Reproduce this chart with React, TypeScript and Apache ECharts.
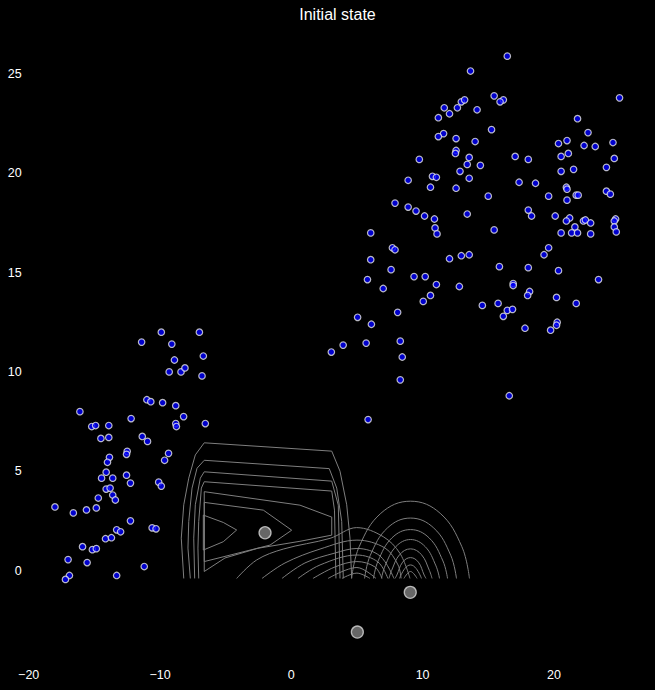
import React, { useEffect, useRef } from "react";
import * as echarts from "echarts";

// ---- data ----
const titleText = "Initial state";

const xTicks = { min: -20, max: 27, interval: 10 };
const yTicks = { min: -5, max: 27, interval: 5 };

const leftClusterPoints: number[][] = [
  [-9.9, 12.0], [-7.0, 12.0], [-11.4, 11.5], [-9.1, 11.4], [-8.9, 10.6], [-6.7, 10.8], [-9.3, 10.0], [-8.4, 10.0], [-8.1, 10.2], [-6.8, 9.8],
  [-16.1, 8.0], [-11.0, 8.6], [-10.7, 8.5], [-9.8, 8.45], [-8.8, 8.3], [-12.2, 7.65], [-8.2, 7.75], [-15.2, 7.25], [-14.9, 7.3], [-13.9, 7.3],
  [-8.8, 7.4], [-8.75, 7.25], [-6.55, 7.4], [-14.5, 6.65], [-13.9, 6.7], [-11.35, 6.75], [-10.95, 6.5], [-12.5, 6.0], [-12.55, 5.85], [-9.35, 5.9],
  [-13.85, 5.7], [-14.0, 5.45], [-9.65, 5.55], [-14.1, 4.95], [-14.45, 4.65], [-13.6, 4.65], [-12.55, 4.8], [-12.25, 4.4], [-10.1, 4.45], [-9.9, 4.25],
  [-14.1, 4.1], [-13.8, 4.15], [-13.6, 3.8], [-13.4, 3.55], [-14.7, 3.65], [-18.0, 3.2], [-16.6, 2.9], [-15.6, 3.05], [-14.85, 3.15], [-12.25, 2.5],
  [-13.3, 2.05], [-13.0, 1.95], [-10.6, 2.15], [-10.3, 2.1], [-14.15, 1.6], [-13.7, 1.65], [-15.9, 1.2], [-15.15, 1.05], [-14.85, 1.1], [-17.0, 0.55],
  [-15.55, 0.4], [-11.2, 0.2], [-16.9, -0.25], [-17.2, -0.45], [-13.3, -0.25],
];

const rightClusterPoints: number[][] = [
  [16.45, 25.9], [13.65, 25.15], [25.0, 23.8], [15.45, 23.9], [16.15, 23.7], [15.9, 23.6], [12.95, 23.6], [13.2, 23.7], [12.65, 23.3], [11.65, 23.3],
  [12.05, 23.0], [14.15, 23.2], [11.2, 22.8], [21.8, 22.75], [15.25, 22.2], [22.6, 22.05], [11.6, 22.0], [11.2, 21.85], [12.55, 21.75], [14.0, 21.6],
  [21.0, 21.65], [20.35, 21.5], [24.5, 21.55], [22.3, 21.4], [23.15, 21.35], [12.55, 21.15], [12.5, 21.0], [13.55, 20.8], [21.1, 21.0], [20.55, 20.85],
  [17.05, 20.85], [18.05, 20.7], [24.6, 20.75], [9.75, 20.7], [13.4, 20.45], [14.4, 20.4], [24.0, 20.3], [21.5, 20.2], [12.85, 20.1], [20.55, 20.1],
  [10.75, 19.85], [11.05, 19.8], [13.55, 19.75], [8.9, 19.65], [17.35, 19.55], [18.6, 19.5], [10.6, 19.3], [12.55, 19.25], [20.95, 19.3], [21.0, 19.2],
  [24.0, 19.1], [24.3, 18.95], [19.6, 18.85], [15.0, 18.85], [21.7, 18.9], [21.85, 18.9], [21.0, 18.65], [7.9, 18.5], [8.9, 18.3], [9.5, 18.1],
  [18.05, 18.15], [10.15, 17.85], [10.9, 17.7], [13.4, 17.95], [18.3, 17.85], [20.1, 17.85], [21.2, 17.75], [20.95, 17.6], [22.25, 17.6], [22.4, 17.65],
  [22.8, 17.5], [24.7, 17.7], [24.6, 17.6], [21.6, 17.3], [24.6, 17.3], [10.95, 17.25], [24.75, 17.05], [11.1, 16.95], [20.55, 17.0], [21.35, 17.0],
  [21.8, 17.0], [22.8, 16.95], [15.45, 17.15], [6.05, 17.0], [19.6, 16.25], [19.25, 15.9], [7.7, 16.25], [7.9, 16.15], [12.05, 15.7], [12.95, 15.85],
  [13.55, 15.9], [6.05, 15.65], [7.6, 15.15], [15.85, 15.3], [18.05, 15.25], [20.35, 15.1], [5.8, 14.65], [9.35, 14.8], [10.2, 14.8], [11.05, 14.4],
  [12.8, 14.3], [16.9, 14.45], [16.9, 14.35], [23.4, 14.65], [7.0, 14.2], [18.15, 14.05], [18.0, 13.85], [10.6, 13.85], [10.05, 13.55], [20.2, 13.75],
  [14.55, 13.35], [15.75, 13.45], [21.7, 13.45], [16.45, 13.1], [16.85, 13.15], [16.15, 12.8], [5.05, 12.75], [8.1, 13.0], [6.1, 12.4], [20.25, 12.5],
  [20.2, 12.35], [17.8, 12.2], [19.75, 12.1], [3.95, 11.35], [5.7, 11.45], [8.3, 11.55], [3.05, 11.0], [8.45, 10.75], [8.3, 9.6], [16.6, 8.8], [5.85, 7.6],
];

const centroidPoints: number[][] = [
  [-2.0, 1.9],
  [9.06, -1.1],
  [5.03, -3.1],
];

// contour lines around the first centroid (piecewise, open at the bottom cut)
const leftContours: number[][][] = [
  [[-8.19, -0.4], [-8.38, 1.63], [-8.19, 3.31], [-7.81, 4.65], [-7.31, 5.82], [-6.63, 6.43], [3.08, 6.01], [3.71, 5.0], [4.22, 3.31], [4.47, 1.63], [4.6, -0.4]],
  [[-7.69, -0.4], [-7.87, 1.13], [-7.81, 2.47], [-7.56, 4.15], [-7.18, 5.15], [-6.63, 5.55], [2.89, 5.13], [3.46, 4.15], [3.84, 2.47], [3.96, -0.4]],
  [[-7.36, -0.4], [-7.43, 1.63], [-7.31, 3.31], [-6.93, 4.65], [-6.63, 4.97], [3.08, 4.5], [3.58, 3.29], [3.71, -0.4]],
  [[-7.05, -0.4], [-7.11, 1.13], [-7.05, 2.47], [-6.85, 4.15], [-6.63, 4.47], [3.08, 4.0], [3.29, 3.04], [3.4, -0.4]],
  [[-6.63, 3.97], [0.66, 3.29], [3.08, 2.69], [3.08, 1.78], [0.66, 1.47], [-2.54, 1.12], [-5.05, 0.63], [-6.63, -0.05], [-6.63, 3.97]],
  [[-6.63, 3.43], [-2.13, 3.04], [0.03, 2.03], [-1.62, 1.28], [-6.63, 0.45], [-6.63, 3.43]],
  [[-6.7, 2.79], [-5.18, 2.42], [-4.16, 2.04], [-5.18, 1.45], [-6.7, 1.03], [-6.7, 2.79]],
];

// contour arcs around the third centroid
const middleContours: number[][][] = [
  [[-4.16, -0.4], [-2.64, 0.53], [-0.61, 1.08], [2.95, 1.62], [4.98, 2.16], [7.01, 1.7], [8.28, 0.86], [9.04, -0.4]],
  [[-2.23, -0.4], [-0.48, 0.38], [2.19, 1.08], [5.0, 1.53], [7.14, 1.13], [8.13, 0.28], [8.36, -0.4]],
  [[-0.71, -0.4], [1.04, 0.38], [3.33, 0.88], [5.0, 1.11], [6.76, 0.73], [7.82, -0.4]],
  [[0.51, -0.4], [2.19, 0.28], [5.0, 0.78], [6.6, 0.43], [7.36, -0.4]],
  [[1.65, -0.4], [3.33, 0.18], [5.0, 0.45], [6.37, 0.18], [6.91, -0.4]],
  [[2.8, -0.4], [5.0, 0.15], [6.45, -0.4]],
  [[3.86, -0.4], [5.0, -0.13], [5.99, -0.4]],
];

// contour arcs around the second centroid
const rightContours: number[][][] = [
  [[4.59, -0.4], [5.17, 1.2], [6.82, 2.88], [9.08, 3.49], [11.34, 2.88], [12.99, 1.2], [13.57, -0.4]],
  [[5.58, -0.4], [6.02, 0.77], [7.32, 2.14], [9.08, 2.64], [10.85, 2.14], [12.14, 0.77], [12.58, -0.4]],
  [[6.26, -0.4], [6.61, 0.48], [7.66, 1.64], [9.08, 2.06], [10.5, 1.64], [11.55, 0.48], [11.9, -0.4]],
  [[6.87, -0.4], [7.14, 0.23], [7.96, 1.2], [9.08, 1.56], [10.2, 1.2], [11.02, 0.23], [11.29, -0.4]],
  [[7.44, -0.4], [7.64, 0.0], [8.25, 0.8], [9.08, 1.09], [9.91, 0.8], [10.52, 0.0], [10.72, -0.4]],
  [[7.9, -0.4], [8.04, -0.23], [8.48, 0.42], [9.08, 0.65], [9.68, 0.42], [10.12, -0.23], [10.26, -0.4]],
  [[8.24, -0.4], [8.65, 0.1], [9.08, 0.28], [9.51, 0.1], [9.92, -0.4]],
  [[8.58, -0.4], [9.08, -0.05], [9.58, -0.4]],
];

const FONT = '"Liberation Sans", Arial, Helvetica, sans-serif';
const CONTOUR_COLOR = "#7e7e7e";

const minusFmt = (v: number) => (v < 0 ? "\u2212" + Math.abs(v) : String(v));

export default function App() {
  const ref = useRef<HTMLDivElement>(null);

  useEffect(() => {
    document.body.style.margin = "0";
    document.body.style.background = "#000";
    if (!ref.current) return;
    const chart = echarts.init(ref.current, undefined, { renderer: "svg" });

    const mk = (c: number[][], smooth: number | boolean) => ({
      type: "line",
      data: c,
      showSymbol: false,
      symbol: "none",
      smooth,
      silent: true,
      lineStyle: { color: CONTOUR_COLOR, width: 1 },
      z: 1,
    });

    const contourSeries: any[] = [
      ...leftContours.map((c) => mk(c, false)),
      ...middleContours.map((c) => mk(c, 0.35)),
      ...rightContours.map((c) => mk(c, 0.4)),
    ];

    chart.setOption({
      animation: false,
      backgroundColor: "#000",
      grid: { left: 28.7, right: 9.2, top: 34.3, bottom: 20.2, containLabel: false },
      graphic: [
        {
          type: "text",
          x: 337.5,
          y: 14,
          style: {
            text: titleText,
            fill: "#fff",
            font: `16px ${FONT}`,
            align: "center",
            verticalAlign: "middle",
            textAlign: "center",
            textVerticalAlign: "middle",
          },
        },
      ],
      xAxis: {
        type: "value",
        min: xTicks.min,
        max: xTicks.max,
        interval: xTicks.interval,
        axisLine: { show: false },
        axisTick: { show: false },
        splitLine: { show: false },
        axisLabel: {
          color: "#fff",
          fontSize: 12.5,
          fontFamily: FONT,
          margin: -1,
          showMaxLabel: false,
          formatter: minusFmt,
        },
      },
      yAxis: {
        type: "value",
        min: yTicks.min,
        max: yTicks.max,
        interval: yTicks.interval,
        axisLine: { show: false },
        axisTick: { show: false },
        splitLine: { show: false },
        axisLabel: {
          color: "#fff",
          fontSize: 12.5,
          fontFamily: FONT,
          margin: 7,
          showMinLabel: false,
          showMaxLabel: false,
          formatter: minusFmt,
        },
      },
      series: [
        ...contourSeries,
        {
          type: "scatter",
          data: [...leftClusterPoints, ...rightClusterPoints],
          symbol: "circle",
          symbolSize: 6.5,
          silent: true,
          itemStyle: { color: "#0000ff", borderColor: "#e6e6e6", borderWidth: 1.2 },
          z: 3,
        },
        {
          type: "scatter",
          data: centroidPoints,
          symbol: "circle",
          symbolSize: 12,
          silent: true,
          itemStyle: { color: "#808080", borderColor: "#d8d8d8", borderWidth: 1.3 },
          z: 4,
        },
      ],
    });

    return () => chart.dispose();
  }, []);

  return (
    <div
      ref={ref}
      style={{ position: "absolute", left: 0, top: 0, width: 655, height: 690, background: "#000" }}
    />
  );
}
